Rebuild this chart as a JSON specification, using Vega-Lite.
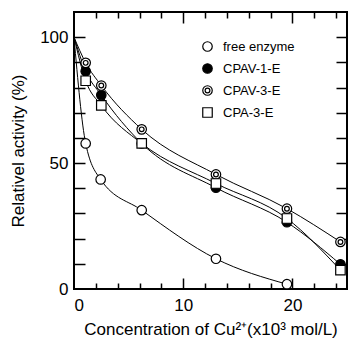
{
  "$schema": "https://vega.github.io/schema/vega-lite/v6.json",
  "width": 273,
  "height": 277,
  "autosize": "none",
  "padding": {"left": 74, "top": 12, "right": 5, "bottom": 51},
  "config": {
    "font": "Liberation Sans",
    "view": {"stroke": "black", "strokeWidth": 2},
    "axis": {"grid": false, "domain": false, "labelColor": "black", "titleColor": "black", "labelFont": "Liberation Sans", "titleFont": "Liberation Sans", "labelFontSize": 17, "titleFontSize": 17, "titleFontWeight": "normal"}
  },
  "data": {
    "values": [
      {"series": "free enzyme", "x": 0, "y": 100, "m": false},
      {"series": "free enzyme", "x": 1.07, "y": 57.8, "m": true},
      {"series": "free enzyme", "x": 2.44, "y": 43.5, "m": true},
      {"series": "free enzyme", "x": 6.2, "y": 31.3, "m": true},
      {"series": "free enzyme", "x": 13, "y": 12, "m": true},
      {"series": "free enzyme", "x": 19.5, "y": 1.9, "m": true},
      {"series": "CPAV-1-E", "x": 0, "y": 100, "m": false},
      {"series": "CPAV-1-E", "x": 1.07, "y": 86.5, "m": true},
      {"series": "CPAV-1-E", "x": 2.5, "y": 77, "m": true},
      {"series": "CPAV-1-E", "x": 6.2, "y": 57.8, "m": true},
      {"series": "CPAV-1-E", "x": 13, "y": 40.2, "m": true},
      {"series": "CPAV-1-E", "x": 19.5, "y": 26.5, "m": true},
      {"series": "CPAV-1-E", "x": 24.4, "y": 9.8, "m": true},
      {"series": "CPAV-3-E", "x": 0, "y": 100, "m": false},
      {"series": "CPAV-3-E", "x": 1.07, "y": 89.8, "m": true},
      {"series": "CPAV-3-E", "x": 2.5, "y": 80.8, "m": true},
      {"series": "CPAV-3-E", "x": 6.2, "y": 63.4, "m": true},
      {"series": "CPAV-3-E", "x": 13, "y": 45.5, "m": true},
      {"series": "CPAV-3-E", "x": 19.5, "y": 31.9, "m": true},
      {"series": "CPAV-3-E", "x": 24.4, "y": 18.7, "m": true},
      {"series": "CPA-3-E", "x": 0, "y": 100, "m": false},
      {"series": "CPA-3-E", "x": 1.07, "y": 82.7, "m": true},
      {"series": "CPA-3-E", "x": 2.5, "y": 72.9, "m": true},
      {"series": "CPA-3-E", "x": 6.2, "y": 57.8, "m": true},
      {"series": "CPA-3-E", "x": 13, "y": 41.9, "m": true},
      {"series": "CPA-3-E", "x": 19.5, "y": 28, "m": true},
      {"series": "CPA-3-E", "x": 24.4, "y": 7.5, "m": true}
    ]
  },
  "layer": [
    {
      "transform": [{"filter": "datum.series === 'free enzyme'"}],
      "mark": {"type": "line", "interpolate": "monotone", "color": "black", "strokeWidth": 1},
      "encoding": {
        "x": {"field": "x", "type": "quantitative", "scale": {"domain": [0, 25], "nice": false},
          "axis": {"orient": "bottom", "values": [0, 10, 20], "ticks": false, "labelPadding": 8, "title": "Concentration of Cu²⁺(x10³ mol/L)", "titlePadding": 8}},
        "y": {"field": "y", "type": "quantitative", "scale": {"domain": [0, 110], "nice": false},
          "axis": {"orient": "left", "values": [0, 50, 100], "ticks": false, "labelPadding": 6, "title": "Relativel activity (%)", "titlePadding": 12}},
        "detail": {"field": "series"}
      }
    },
    {
      "transform": [{"filter": "datum.series !== 'free enzyme'"}],
      "mark": {"type": "line", "interpolate": "monotone", "color": "black", "strokeWidth": 1},
      "encoding": {
        "x": {"field": "x", "type": "quantitative",
          "axis": {"orient": "bottom", "values": [2, 4, 6, 8, 10, 12, 14, 16, 18, 20, 22, 24], "labels": false, "title": null, "ticks": true, "tickColor": "black", "tickWidth": 1.5,
            "tickSize": {"condition": {"test": "datum.value % 10 === 0", "value": -11}, "value": -6}}},
        "y": {"field": "y", "type": "quantitative",
          "axis": {"orient": "left", "values": [10, 20, 30, 40, 50, 60, 70, 80, 90, 100], "labels": false, "title": null, "ticks": true, "tickColor": "black", "tickWidth": 1.5, "tickSize": -11}},
        "detail": {"field": "series"}
      }
    },
    {
      "transform": [{"filter": "datum.m"}],
      "mark": {"type": "point", "filled": false, "stroke": "black", "strokeWidth": 1.2, "opacity": 1},
      "encoding": {
        "x": {"field": "x", "type": "quantitative",
          "axis": {"orient": "top", "values": [2, 4, 6, 8, 10, 12, 14, 16, 18, 20, 22, 24], "labels": false, "title": null, "ticks": true, "tickColor": "black", "tickWidth": 1.5,
            "tickSize": {"condition": {"test": "datum.value % 10 === 0", "value": -11}, "value": -6}}},
        "y": {"field": "y", "type": "quantitative",
          "axis": {"orient": "right", "values": [10, 20, 30, 40, 50, 60, 70, 80, 90, 100], "labels": false, "title": null, "ticks": true, "tickColor": "black", "tickWidth": 1.5, "tickSize": -11}},
        "shape": {"field": "series", "type": "nominal",
          "scale": {"domain": ["free enzyme", "CPAV-1-E", "CPAV-3-E", "CPA-3-E"],
            "range": ["circle", "circle", "M-1,0A1,1,0,1,1,1,0A1,1,0,1,1,-1,0ZM-0.5,0A0.5,0.5,0,1,1,0.5,0A0.5,0.5,0,1,1,-0.5,0Z", "square"]},
          "legend": {"title": null, "orient": "none", "legendX": 127, "legendY": 28, "labelFontSize": 13, "labelFont": "Liberation Sans", "labelColor": "black", "symbolSize": 90, "symbolStrokeWidth": 1.2, "rowPadding": 7, "labelOffset": 9, "padding": 0}},
        "fill": {"field": "series", "type": "nominal",
          "scale": {"domain": ["free enzyme", "CPAV-1-E", "CPAV-3-E", "CPA-3-E"], "range": ["white", "black", "white", "white"]},
          "legend": {"title": null, "orient": "none", "legendX": 127, "legendY": 28, "labelFontSize": 13, "labelFont": "Liberation Sans", "labelColor": "black", "symbolSize": 90, "symbolStrokeWidth": 1.2, "rowPadding": 7, "labelOffset": 9, "padding": 0}},
        "size": {"value": 90}
      }
    }
  ],
  "resolve": {"axis": {"x": "independent", "y": "independent"}}
}
